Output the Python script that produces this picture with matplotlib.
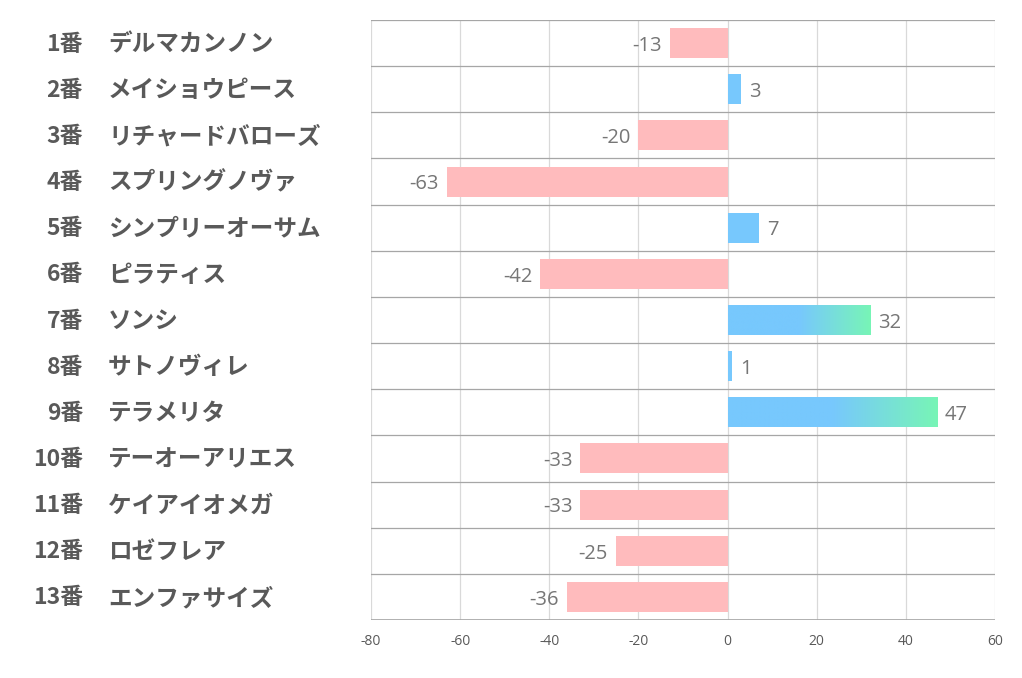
import matplotlib
matplotlib.use("Agg")
import matplotlib.pyplot as plt
import numpy as np
from matplotlib.colors import LinearSegmentedColormap

plt.rcParams['font.family'] = ['Noto Sans CJK JP', 'DejaVu Sans']

numbers = ["1番", "2番", "3番", "4番", "5番", "6番", "7番", "8番", "9番", "10番", "11番", "12番", "13番"]
names = ["デルマカンノン", "メイショウピース", "リチャードバローズ", "スプリングノヴァ", "シンプリーオーサム",
         "ピラティス", "ソンシ", "サトノヴィレ", "テラメリタ", "テーオーアリエス", "ケイアイオメガ", "ロゼフレア", "エンファサイズ"]
values = [-13, 3, -20, -63, 7, -42, 32, 1, 47, -33, -33, -25, -36]
xticks = [-80, -60, -40, -20, 0, 20, 40, 60]

W, H = 1022, 678
fig = plt.figure(figsize=(W / 100, H / 100), dpi=100)
ax = fig.add_axes([371 / W, 1 - 620 / H, (995 - 371) / W, 600 / H])

n = len(values)
ypos = np.arange(n)
bh = 0.65
pink = "#FFBBBD"
blue = "#77C8FD"
green = "#78F5B6"
cmap = LinearSegmentedColormap.from_list("bg", [(0, blue), (0.5, blue), (1, green)])

ax.set_xlim(-80, 60)
ax.set_ylim(n - 0.5, -0.5)

for y, v in zip(ypos, values):
    if v < 0:
        ax.barh(y, v, height=bh, color=pink, zorder=3)
        ax.text(v - 1.8, y + 0.06, str(v), ha="right", va="center", fontsize=14.5,
                color="#767676", family=['Open Sans', 'DejaVu Sans'], zorder=4)
    else:
        bars = ax.barh(y, v, height=bh, color=blue, zorder=3)
        if v >= 20:
            patch = bars[0]
            grad = np.linspace(0, 1, 256).reshape(1, -1)
            im = ax.imshow(grad, cmap=cmap, aspect="auto",
                           extent=[0, v, y + bh / 2, y - bh / 2], zorder=3.5,
                           interpolation="bilinear")
            im.set_clip_path(patch)
        ax.text(v + 1.8, y + 0.06, str(v), ha="left", va="center", fontsize=14.5,
                color="#767676", family=['Open Sans', 'DejaVu Sans'], zorder=4)

# grid
for xt in xticks:
    ax.axvline(xt, color="#D9D9D9", lw=0.9, zorder=1)
for b in np.arange(-0.5, n - 0.4, 1.0):
    ax.axhline(b, color="#A6A6A6", lw=0.9, zorder=2)
ax.axhline(n - 0.5, color="#A6A6A6", lw=1.2, zorder=2)

for s in ax.spines.values():
    s.set_visible(False)

ax.set_xticks(xticks)
ax.set_xticklabels([str(t) for t in xticks], fontsize=10, color="#595959",
                   family=['Open Sans', 'DejaVu Sans'])
ax.tick_params(axis="x", length=0, pad=10)
ax.set_yticks([])

# row labels
for y, num, name in zip(ypos, numbers, names):
    yfig = 1 - (21 + (y + 0.5) * 600 / n) / H
    fig.text(83 / W, yfig, num, ha="right", va="center", fontsize=16.5,
             fontweight="bold", color="#595959")
    fig.text(108 / W, yfig, name, ha="left", va="center", fontsize=17,
             fontweight="bold", color="#595959")

fig.savefig("out.png", dpi=100)
